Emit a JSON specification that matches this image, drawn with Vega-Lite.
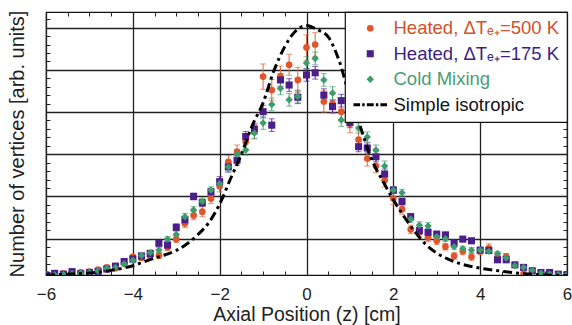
{
  "$schema": "https://vega.github.io/schema/vega-lite/v6.json",
  "autosize": {"type": "none"},
  "width": 521,
  "height": 263,
  "padding": {"left": 46, "top": 12, "right": 5, "bottom": 50},
  "background": "white",
  "config": {
    "view": {"stroke": "#111", "strokeWidth": 1.2},
    "font": "Liberation Sans",
    "legend": {"strokeWidth": 1.2, "strokeColor": "#111", "fillColor": "white"},
    "axis": {"domain": false, "labelFlush": false, "labelColor": "#222", "titleColor": "#222", "titleFontWeight": "normal", "tickColor": "#222", "gridColor": "#222", "gridWidth": 1.3, "gridOpacity": 1}
  },
  "datasets": {
    "pts": [
      {"s":"h500","z":-6.0,"v":0.15,"e":0.04},{"s":"h500","z":-5.8,"v":0.16,"e":0.04},{"s":"h500","z":-5.6,"v":0.18,"e":0.04},{"s":"h500","z":-5.4,"v":0.17,"e":0.04},{"s":"h500","z":-5.2,"v":0.20,"e":0.04},{"s":"h500","z":-5.0,"v":0.22,"e":0.05},{"s":"h500","z":-4.8,"v":0.27,"e":0.05},{"s":"h500","z":-4.6,"v":0.32,"e":0.05},{"s":"h500","z":-4.4,"v":0.30,"e":0.05},{"s":"h500","z":-4.2,"v":0.42,"e":0.06},{"s":"h500","z":-4.0,"v":0.57,"e":0.06},{"s":"h500","z":-3.8,"v":0.55,"e":0.06},{"s":"h500","z":-3.6,"v":0.59,"e":0.07},{"s":"h500","z":-3.4,"v":0.60,"e":0.07},{"s":"h500","z":-3.2,"v":0.80,"e":0.08},{"s":"h500","z":-3.0,"v":0.99,"e":0.08},{"s":"h500","z":-2.8,"v":1.36,"e":0.10},{"s":"h500","z":-2.6,"v":1.55,"e":0.10},{"s":"h500","z":-2.4,"v":1.64,"e":0.12},{"s":"h500","z":-2.2,"v":1.95,"e":0.12},{"s":"h500","z":-2.0,"v":2.25,"e":0.14},{"s":"h500","z":-1.8,"v":2.82,"e":0.15},{"s":"h500","z":-1.6,"v":3.06,"e":0.16},{"s":"h500","z":-1.4,"v":3.30,"e":0.18},{"s":"h500","z":-1.2,"v":3.54,"e":0.18},{"s":"h500","z":-1.0,"v":4.84,"e":0.30},{"s":"h500","z":-0.8,"v":4.52,"e":0.25},{"s":"h500","z":-0.6,"v":4.84,"e":0.25},{"s":"h500","z":-0.4,"v":5.12,"e":0.25},{"s":"h500","z":-0.2,"v":4.76,"e":0.30},{"s":"h500","z":0.0,"v":5.53,"e":0.30},{"s":"h500","z":0.2,"v":5.60,"e":0.28},{"s":"h500","z":0.4,"v":4.25,"e":0.25},{"s":"h500","z":0.6,"v":4.20,"e":0.22},{"s":"h500","z":0.8,"v":4.01,"e":0.22},{"s":"h500","z":1.0,"v":3.73,"e":0.22},{"s":"h500","z":1.2,"v":3.35,"e":0.20},{"s":"h500","z":1.4,"v":2.90,"e":0.18},{"s":"h500","z":1.6,"v":2.72,"e":0.16},{"s":"h500","z":1.8,"v":2.38,"e":0.15},{"s":"h500","z":2.0,"v":1.95,"e":0.14},{"s":"h500","z":2.2,"v":1.70,"e":0.12},{"s":"h500","z":2.4,"v":1.22,"e":0.10},{"s":"h500","z":2.6,"v":1.15,"e":0.10},{"s":"h500","z":2.8,"v":1.03,"e":0.10},{"s":"h500","z":3.0,"v":0.95,"e":0.09},{"s":"h500","z":3.2,"v":0.81,"e":0.08},{"s":"h500","z":3.4,"v":0.59,"e":0.08},{"s":"h500","z":3.6,"v":0.70,"e":0.08},{"s":"h500","z":3.8,"v":0.57,"e":0.08},{"s":"h500","z":4.0,"v":0.70,"e":0.08},{"s":"h500","z":4.2,"v":0.78,"e":0.10},{"s":"h500","z":4.4,"v":0.55,"e":0.07},{"s":"h500","z":4.6,"v":0.58,"e":0.07},{"s":"h500","z":4.8,"v":0.38,"e":0.06},{"s":"h500","z":5.0,"v":0.16,"e":0.05},{"s":"h500","z":5.2,"v":0.25,"e":0.05},{"s":"h500","z":5.4,"v":0.20,"e":0.05},{"s":"h500","z":5.6,"v":0.17,"e":0.04},{"s":"h500","z":5.8,"v":0.16,"e":0.04},{"s":"h500","z":6.0,"v":0.15,"e":0.04},
      {"s":"h175","z":-6.0,"v":0.14,"e":0.04},{"s":"h175","z":-5.8,"v":0.18,"e":0.04},{"s":"h175","z":-5.6,"v":0.16,"e":0.04},{"s":"h175","z":-5.4,"v":0.22,"e":0.04},{"s":"h175","z":-5.2,"v":0.17,"e":0.04},{"s":"h175","z":-5.0,"v":0.20,"e":0.04},{"s":"h175","z":-4.8,"v":0.22,"e":0.04},{"s":"h175","z":-4.6,"v":0.28,"e":0.04},{"s":"h175","z":-4.4,"v":0.35,"e":0.04},{"s":"h175","z":-4.2,"v":0.46,"e":0.04},{"s":"h175","z":-4.0,"v":0.52,"e":0.06},{"s":"h175","z":-3.8,"v":0.59,"e":0.06},{"s":"h175","z":-3.6,"v":0.65,"e":0.06},{"s":"h175","z":-3.4,"v":0.89,"e":0.06},{"s":"h175","z":-3.2,"v":0.85,"e":0.06},{"s":"h175","z":-3.0,"v":1.27,"e":0.08},{"s":"h175","z":-2.8,"v":1.45,"e":0.08},{"s":"h175","z":-2.6,"v":2.00,"e":0.08},{"s":"h175","z":-2.4,"v":1.85,"e":0.08},{"s":"h175","z":-2.2,"v":2.11,"e":0.08},{"s":"h175","z":-2.0,"v":2.35,"e":0.12},{"s":"h175","z":-1.8,"v":2.70,"e":0.12},{"s":"h175","z":-1.6,"v":2.86,"e":0.12},{"s":"h175","z":-1.4,"v":3.42,"e":0.12},{"s":"h175","z":-1.2,"v":3.60,"e":0.12},{"s":"h175","z":-1.0,"v":4.01,"e":0.15},{"s":"h175","z":-0.8,"v":3.69,"e":0.15},{"s":"h175","z":-0.6,"v":4.76,"e":0.15},{"s":"h175","z":-0.4,"v":4.64,"e":0.15},{"s":"h175","z":-0.2,"v":4.35,"e":0.15},{"s":"h175","z":0.0,"v":4.88,"e":0.15},{"s":"h175","z":0.2,"v":4.93,"e":0.15},{"s":"h175","z":0.4,"v":4.40,"e":0.15},{"s":"h175","z":0.6,"v":4.13,"e":0.15},{"s":"h175","z":0.8,"v":4.27,"e":0.15},{"s":"h175","z":1.0,"v":3.75,"e":0.12},{"s":"h175","z":1.2,"v":3.18,"e":0.12},{"s":"h175","z":1.4,"v":3.15,"e":0.12},{"s":"h175","z":1.6,"v":2.94,"e":0.12},{"s":"h175","z":1.8,"v":2.53,"e":0.12},{"s":"h175","z":2.0,"v":2.15,"e":0.08},{"s":"h175","z":2.2,"v":1.88,"e":0.08},{"s":"h175","z":2.4,"v":1.52,"e":0.08},{"s":"h175","z":2.6,"v":1.19,"e":0.08},{"s":"h175","z":2.8,"v":1.15,"e":0.08},{"s":"h175","z":3.0,"v":1.11,"e":0.06},{"s":"h175","z":3.2,"v":1.09,"e":0.06},{"s":"h175","z":3.4,"v":0.90,"e":0.06},{"s":"h175","z":3.6,"v":0.99,"e":0.06},{"s":"h175","z":3.8,"v":0.95,"e":0.06},{"s":"h175","z":4.0,"v":0.73,"e":0.04},{"s":"h175","z":4.2,"v":0.72,"e":0.04},{"s":"h175","z":4.4,"v":0.50,"e":0.04},{"s":"h175","z":4.6,"v":0.50,"e":0.04},{"s":"h175","z":4.8,"v":0.38,"e":0.04},{"s":"h175","z":5.0,"v":0.32,"e":0.04},{"s":"h175","z":5.2,"v":0.24,"e":0.04},{"s":"h175","z":5.4,"v":0.20,"e":0.04},{"s":"h175","z":5.6,"v":0.20,"e":0.04},{"s":"h175","z":5.8,"v":0.16,"e":0.04},{"s":"h175","z":6.0,"v":0.15,"e":0.04},
      {"s":"cold","z":-6.0,"v":0.12,"e":0.04},{"s":"cold","z":-5.8,"v":0.14,"e":0.04},{"s":"cold","z":-5.6,"v":0.15,"e":0.04},{"s":"cold","z":-5.4,"v":0.17,"e":0.04},{"s":"cold","z":-5.2,"v":0.18,"e":0.04},{"s":"cold","z":-5.0,"v":0.20,"e":0.04},{"s":"cold","z":-4.8,"v":0.24,"e":0.04},{"s":"cold","z":-4.6,"v":0.30,"e":0.04},{"s":"cold","z":-4.4,"v":0.32,"e":0.04},{"s":"cold","z":-4.2,"v":0.40,"e":0.04},{"s":"cold","z":-4.0,"v":0.49,"e":0.06},{"s":"cold","z":-3.8,"v":0.60,"e":0.06},{"s":"cold","z":-3.6,"v":0.67,"e":0.06},{"s":"cold","z":-3.4,"v":0.73,"e":0.06},{"s":"cold","z":-3.2,"v":0.99,"e":0.06},{"s":"cold","z":-3.0,"v":1.10,"e":0.08},{"s":"cold","z":-2.8,"v":1.52,"e":0.08},{"s":"cold","z":-2.6,"v":1.68,"e":0.08},{"s":"cold","z":-2.4,"v":1.88,"e":0.08},{"s":"cold","z":-2.2,"v":2.15,"e":0.08},{"s":"cold","z":-2.0,"v":2.30,"e":0.12},{"s":"cold","z":-1.8,"v":2.70,"e":0.12},{"s":"cold","z":-1.6,"v":3.00,"e":0.12},{"s":"cold","z":-1.4,"v":3.10,"e":0.12},{"s":"cold","z":-1.2,"v":3.50,"e":0.12},{"s":"cold","z":-1.0,"v":3.74,"e":0.15},{"s":"cold","z":-0.8,"v":4.18,"e":0.15},{"s":"cold","z":-0.6,"v":4.56,"e":0.15},{"s":"cold","z":-0.4,"v":4.29,"e":0.15},{"s":"cold","z":-0.2,"v":4.37,"e":0.15},{"s":"cold","z":0.0,"v":5.16,"e":0.15},{"s":"cold","z":0.2,"v":5.27,"e":0.15},{"s":"cold","z":0.4,"v":4.76,"e":0.15},{"s":"cold","z":0.6,"v":4.45,"e":0.15},{"s":"cold","z":0.8,"v":3.81,"e":0.15},{"s":"cold","z":1.0,"v":3.85,"e":0.12},{"s":"cold","z":1.2,"v":3.62,"e":0.12},{"s":"cold","z":1.4,"v":3.41,"e":0.12},{"s":"cold","z":1.6,"v":3.10,"e":0.12},{"s":"cold","z":1.8,"v":2.72,"e":0.12},{"s":"cold","z":2.0,"v":2.15,"e":0.08},{"s":"cold","z":2.2,"v":2.09,"e":0.08},{"s":"cold","z":2.4,"v":1.46,"e":0.08},{"s":"cold","z":2.6,"v":1.32,"e":0.08},{"s":"cold","z":2.8,"v":1.30,"e":0.08},{"s":"cold","z":3.0,"v":1.05,"e":0.06},{"s":"cold","z":3.2,"v":1.00,"e":0.06},{"s":"cold","z":3.4,"v":0.81,"e":0.06},{"s":"cold","z":3.6,"v":0.76,"e":0.06},{"s":"cold","z":3.8,"v":0.73,"e":0.06},{"s":"cold","z":4.0,"v":0.73,"e":0.04},{"s":"cold","z":4.2,"v":0.70,"e":0.04},{"s":"cold","z":4.4,"v":0.65,"e":0.04},{"s":"cold","z":4.6,"v":0.54,"e":0.04},{"s":"cold","z":4.8,"v":0.36,"e":0.04},{"s":"cold","z":5.0,"v":0.32,"e":0.04},{"s":"cold","z":5.2,"v":0.25,"e":0.04},{"s":"cold","z":5.4,"v":0.18,"e":0.04},{"s":"cold","z":5.6,"v":0.16,"e":0.04},{"s":"cold","z":5.8,"v":0.15,"e":0.04},{"s":"cold","z":6.0,"v":0.14,"e":0.04}
    ],
    "iso": [
      {"z":-6.0,"v":0.14},{"z":-5.5,"v":0.16},{"z":-5.0,"v":0.19},{"z":-4.5,"v":0.25},{"z":-4.0,"v":0.36},{"z":-3.75,"v":0.45},{"z":-3.5,"v":0.54},{"z":-3.25,"v":0.62},{"z":-3.0,"v":0.72},{"z":-2.75,"v":0.88},{"z":-2.5,"v":1.10},{"z":-2.25,"v":1.38},{"z":-2.0,"v":1.82},{"z":-1.75,"v":2.42},{"z":-1.5,"v":3.00},{"z":-1.25,"v":3.68},{"z":-1.0,"v":4.22},{"z":-0.75,"v":4.98},{"z":-0.5,"v":5.55},{"z":-0.25,"v":5.92},{"z":0.0,"v":6.05},{"z":0.25,"v":5.95},{"z":0.5,"v":5.78},{"z":0.75,"v":5.22},{"z":1.0,"v":4.35},{"z":1.25,"v":3.62},{"z":1.5,"v":2.88},{"z":1.75,"v":2.38},{"z":2.0,"v":1.92},{"z":2.25,"v":1.52},{"z":2.5,"v":1.16},{"z":2.75,"v":0.86},{"z":3.0,"v":0.66},{"z":3.25,"v":0.52},{"z":3.5,"v":0.42},{"z":4.0,"v":0.30},{"z":4.5,"v":0.23},{"z":5.0,"v":0.17},{"z":5.5,"v":0.14},{"z":6.0,"v":0.13}
    ]
  },
  "layer": [
    {
      "data": {"name": "pts"},
      "transform": [{"filter": "datum.s == 'h500'"}],
      "mark": {"type": "errorbar", "color": "#e0693a", "ticks": {"size": 6}, "clip": true},
      "encoding": {
        "x": {"field": "z", "type": "quantitative", "scale": {"domain": [-6, 6], "nice": false, "zero": false}, "axis": null},
        "y": {"field": "v", "type": "quantitative", "scale": {"domain": [0.14, 6.37], "nice": false, "zero": false}, "axis": null},
        "yError": {"field": "e"}
      }
    },
    {
      "data": {"name": "pts"},
      "transform": [{"filter": "datum.s == 'h175'"}],
      "mark": {"type": "errorbar", "color": "#54289a", "ticks": {"size": 6}, "clip": true},
      "encoding": {
        "x": {"field": "z", "type": "quantitative", "axis": null},
        "y": {"field": "v", "type": "quantitative", "axis": null},
        "yError": {"field": "e"}
      }
    },
    {
      "data": {"name": "pts"},
      "transform": [{"filter": "datum.s == 'cold'"}],
      "mark": {"type": "errorbar", "color": "#45a075", "ticks": {"size": 6}, "clip": true},
      "encoding": {
        "x": {"field": "z", "type": "quantitative", "axis": null},
        "y": {"field": "v", "type": "quantitative", "axis": null},
        "yError": {"field": "e"}
      }
    },
    {
      "data": {"name": "pts"},
      "mark": {"type": "point", "filled": true, "opacity": 1, "clip": true},
      "encoding": {
        "x": {"field": "z", "type": "quantitative", "axis": {"orient": "bottom", "values": [-5.5,-5,-4.5,-4,-3.5,-3,-2.5,-2,-1.5,-1,-0.5,0,0.5,1,1.5,2,2.5,3,3.5,4,4.5,5,5.5], "labels": false, "grid": false, "ticks": true, "tickSize": -4, "title": null}},
        "y": {"field": "v", "type": "quantitative", "axis": {"orient": "left", "values": [0.2,0.4,0.6,0.8,1,1.2,1.4,1.6,1.8,2,2.2,2.4,2.6,2.8,3,3.2,3.4,3.6,3.8,4,4.2,4.4,4.6,4.8,5,5.2,5.4,5.6,5.8,6,6.2], "labels": false, "grid": false, "ticks": true, "tickSize": -4, "title": null}},
        "color": {
          "field": "s", "type": "nominal",
          "scale": {"domain": ["h500", "h175", "cold", "iso"], "range": ["#e0552b", "#4b1e8c", "#3e9c6c", "#000000"]},
          "legend": {
            "title": null, "orient": "top-right", "offset": 0, "padding": 7,
            "cornerRadius": 0,
            "symbolSize": 40, "symbolOffset": 9, "symbolStrokeWidth": 0, "labelOffset": 14,
            "labelFontSize": 18.5, "labelFont": "Liberation Sans", "rowPadding": 6.5, "labelLimit": 400,
            "labelExpr": "datum.value == 'h500' ? 'Heated, ΔTₑ₊=500 K' : datum.value == 'h175' ? 'Heated, ΔTₑ₊=175 K' : datum.value == 'cold' ? 'Cold Mixing' : 'Simple isotropic'",
            "labelColor": {"expr": "datum.value == 'h500' ? '#d4502a' : datum.value == 'h175' ? '#3c1f82' : datum.value == 'cold' ? '#4b9c74' : '#111111'"}
          }
        },
        "shape": {
          "field": "s", "type": "nominal",
          "scale": {"domain": ["h500", "h175", "cold", "iso"], "range": ["circle", "square", "diamond", "M-4.33,-0.41L-2.62,-0.41L-2.62,0.41L-4.33,0.41Z M-2.08,-0.41L-1.45,-0.41L-1.45,0.41L-2.08,0.41Z M-0.89,-0.41L0.89,-0.41L0.89,0.41L-0.89,0.41Z M1.45,-0.41L2.08,-0.41L2.08,0.41L1.45,0.41Z M2.62,-0.41L4.33,-0.41L4.33,0.41L2.62,0.41Z"]}
        },
        "size": {
          "field": "s", "type": "nominal",
          "scale": {"domain": ["h500", "h175", "cold", "iso"], "range": [45, 60, 75, 40]},
          "legend": null
        }
      }
    },
    {
      "data": {"name": "iso"},
      "mark": {"type": "line", "color": "#000000", "strokeWidth": 3, "strokeDash": [9, 4, 3, 4], "interpolate": "monotone", "clip": true},
      "encoding": {
        "x": {"field": "z", "type": "quantitative", "axis": {"orient": "bottom", "values": [-6, -4, -2, 0, 2, 4, 6], "ticks": false, "grid": true, "labelFontSize": 17, "labelPadding": 11, "title": "Axial Position (z) [cm]", "titleFontSize": 19.5, "titlePadding": 3}},
        "y": {"field": "v", "type": "quantitative", "axis": {"orient": "left", "values": [1, 2, 3, 4, 5, 6], "ticks": false, "grid": true, "labels": false, "title": "Number of vertices [arb. units]", "titleFontSize": 20, "titlePadding": 19}}
      }
    },
    {
      "data": {"name": "iso"},
      "mark": {"type": "point", "opacity": 0},
      "encoding": {
        "x": {"field": "z", "type": "quantitative", "axis": {"orient": "top", "values": [-5.5,-5,-4.5,-4,-3.5,-3,-2.5,-2,-1.5,-1,-0.5,0,0.5,1,1.5,2,2.5,3,3.5,4,4.5,5,5.5], "labels": false, "grid": false, "ticks": true, "tickSize": -4, "title": null}},
        "y": {"field": "v", "type": "quantitative", "axis": {"orient": "right", "values": [0.2,0.4,0.6,0.8,1,1.2,1.4,1.6,1.8,2,2.2,2.4,2.6,2.8,3,3.2,3.4,3.6,3.8,4,4.2,4.4,4.6,4.8,5,5.2,5.4,5.6,5.8,6,6.2], "labels": false, "grid": false, "ticks": true, "tickSize": -4, "title": null}}
      }
    }
  ],
  "resolve": {"axis": {"x": "independent", "y": "independent"}}
}
